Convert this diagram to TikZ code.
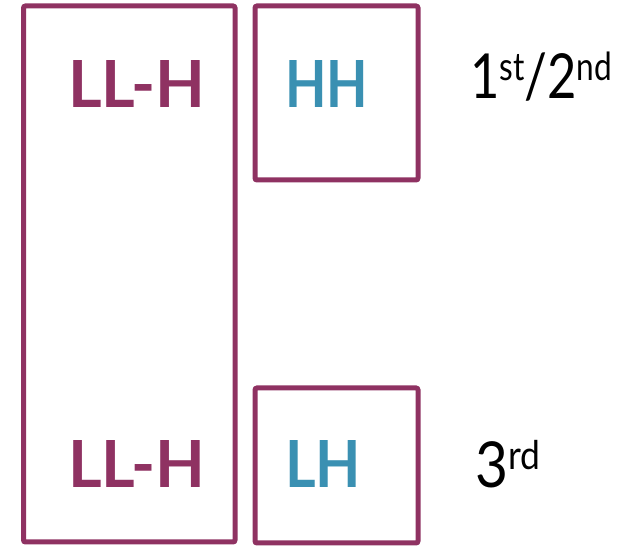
\documentclass[tikz,border=0pt]{standalone}
\usepackage{fontspec}
\setmainfont{Lato}
\definecolor{plum}{RGB}{143,50,98}
\definecolor{teal}{RGB}{58,144,178}
\newcommand{\supr}[1]{\raisebox{19pt}{\fontsize{40}{44}\selectfont #1}}
\begin{document}
\begin{tikzpicture}[x=1pt,y=1pt,
  box/.style={draw=plum,line width=5pt,rounded corners=2pt,inner sep=0pt},
  lab/.style={font=\fontsize{64}{70}\selectfont\bfseries,anchor=base west,inner sep=0pt},
  ord/.style={font=\fontsize{64}{70}\selectfont,anchor=base west,inner sep=0pt}]
\useasboundingbox (0,0) rectangle (641,546);
\node[box,minimum width=211.5pt,minimum height=536pt] (left) at (129.25,272) {};
\node[box,minimum width=163pt,minimum height=174pt] (hh) at (336.5,453) {};
\node[box,minimum width=163pt,minimum height=155pt] (lh) at (336.5,80.5) {};
\node[lab,text=plum] (llh1) at (68,438) {\resizebox{137pt}{47pt}{LL-H}};
\node[lab,text=plum] (llh2) at (68,58) {\resizebox{137pt}{47pt}{LL-H}};
\node[lab,text=teal] (hht) at (285,438) {\resizebox{83pt}{47pt}{HH}};
\node[lab,text=teal] (lht) at (285,58) {\resizebox{76pt}{47pt}{LH}};
\node[ord] (o12) at (470,447) {\resizebox{142pt}{47pt}{1\supr{st}/2\supr{nd}}};
\node[ord] (o3) at (475,58) {\resizebox{65pt}{48pt}{3\supr{rd}}};
\end{tikzpicture}
\end{document}
